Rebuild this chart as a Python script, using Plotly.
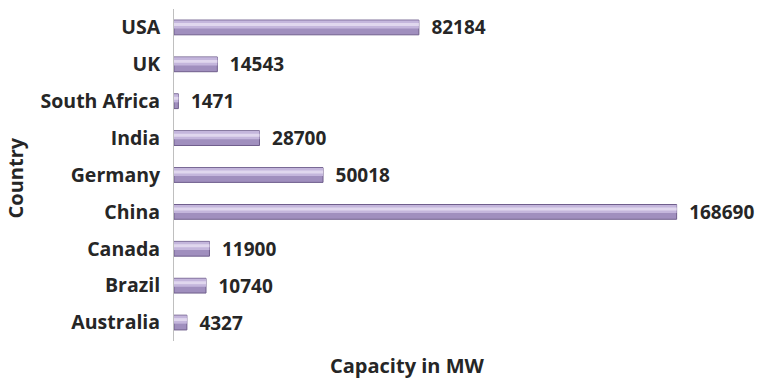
import plotly.graph_objects as go

# Installed capacity by country (MW)
countries = ["Australia", "Brazil", "Canada", "China", "Germany",
             "India", "South Africa", "UK", "USA"]
capacity_mw = [4327, 10740, 11900, 168690, 50018, 28700, 1471, 14543, 82184]

FONT = "'Open Sans', 'Noto Sans', sans-serif"
INK = "#262626"

fig = go.Figure()

# cylinder body
fig.add_trace(go.Bar(
    y=countries, x=capacity_mw, orientation="h",
    width=0.40,
    marker=dict(color="#a08fbe", line=dict(color="#6f5e8c", width=1)),
    text=[str(v) for v in capacity_mw],
    texttemplate="\u2002%{text}",
    textposition="outside",
    constraintext="none",
    textfont=dict(family=FONT, size=19, color=INK, weight="bold"),
    cliponaxis=False,
    hoverinfo="skip",
))

# upper lit half of the cylinder
fig.add_trace(go.Bar(
    y=countries, x=capacity_mw, orientation="h",
    width=0.22, offset=-0.03,
    marker=dict(color="#c4b6dc", line=dict(width=0)),
    hoverinfo="skip",
))

# specular highlight band
fig.add_trace(go.Bar(
    y=countries, x=capacity_mw, orientation="h",
    width=0.08, offset=0.04,
    marker=dict(color="#e0d7ee", line=dict(width=0)),
    hoverinfo="skip",
))

fig.update_layout(
    width=768, height=382,
    margin=dict(l=174, r=10, t=9, b=41),
    paper_bgcolor="white", plot_bgcolor="white",
    barmode="overlay",
    showlegend=False,
    font=dict(family=FONT, color=INK),
    xaxis=dict(
        range=[0, 196000],
        showgrid=False, zeroline=False, showline=False,
        showticklabels=False, ticks="",
    ),
    yaxis=dict(
        showgrid=False, zeroline=False,
        showline=True, linecolor="#bfbfbf", linewidth=1,
        ticks="", ticklabelstandoff=9,
        tickfont=dict(family=FONT, size=19.5, color=INK, weight="bold"),
        range=[-0.5, 8.5],
    ),
    annotations=[
        dict(text="Capacity in MW", xref="paper", yref="paper",
             x=0.40, y=-0.075, xanchor="center", yanchor="middle",
             showarrow=False,
             font=dict(family=FONT, size=20, color=INK, weight="bold")),
        dict(text="Country", xref="paper", yref="paper",
             x=-0.272, y=0.49, xanchor="center", yanchor="middle",
             textangle=-90, showarrow=False,
             font=dict(family=FONT, size=20, color=INK, weight="bold")),
    ],
)

fig.write_html("out.html")
